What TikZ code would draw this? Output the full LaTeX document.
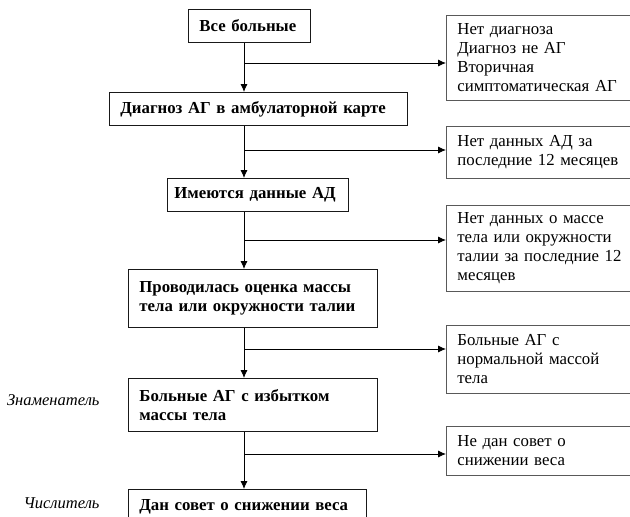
\documentclass[tikz,border=0pt]{standalone}
\usepackage{fontspec}
\setmainfont{Liberation Serif}
\usetikzlibrary{arrows.meta}
\tikzset{
  stagebox/.style={draw=black!90, line width=0.8pt, anchor=north west, align=left, inner xsep=11pt, inner ysep=0pt, font=\fontsize{16.8}{19}\selectfont\bfseries},
  exitbox/.style={draw=black!65, line width=0.8pt, anchor=north west, align=left, inner xsep=11pt, inner ysep=0pt, font=\fontsize{16.8}{19}\selectfont},
  sidelabel/.style={anchor=east, font=\fontsize{16.5}{19}\selectfont\itshape},
  flow/.style={line width=0.8pt, -{Latex[length=8pt,width=7pt]}}
}
\begin{document}
\begin{tikzpicture}[x=1pt,y=-1pt]
\useasboundingbox (0,0) rectangle (630,517);
\clip (0,0) rectangle (630,517);

% main column
\node[stagebox, minimum height=33, text width=100] (all) at (188,9) {Все больные};
\node[stagebox, minimum height=33, text width=276] (diag) at (109,92) {Диагноз АГ в амбулаторной карте};
\node[stagebox, minimum height=33, text width=167, inner xsep=7pt] (bp) at (167,178) {Имеются данные АД};
\node[stagebox, minimum height=58, text width=227] (mass) at (128,269) {Проводилась оценка массы\\тела или окружности талии};
\node[stagebox, minimum height=53, text width=227] (over) at (128,378) {Больные АГ с избытком\\массы тела};
\node[stagebox, minimum height=34, text width=216] (advice) at (128,489) {Дан совет о снижении веса};

% excluded
\node[exitbox, minimum height=85, text width=178] (s1) at (446,15) {Нет диагноза\\Диагноз не АГ\\Вторичная\\симптоматическая АГ};
\node[exitbox, minimum height=52, text width=178] (s2) at (446,126) {Нет данных АД за\\последние 12 месяцев};
\node[exitbox, minimum height=86, text width=178] (s3) at (446,205) {Нет данных о массе\\тела или окружности\\талии за последние 12\\месяцев};
\node[exitbox, minimum height=68, text width=178] (s4) at (446,325) {Больные АГ с\\нормальной массой\\тела};
\node[exitbox, minimum height=49, text width=178] (s5) at (446,426) {Не дан совет о\\снижении веса};

\node[sidelabel] (denom) at (103,400) {Знаменатель};
\node[sidelabel] (numer) at (103,503) {Числитель};

\coordinate (j1) at (244,63);
\coordinate (j2) at (244,150);
\coordinate (j3) at (244,240);
\coordinate (j4) at (244,349);
\coordinate (j5) at (244,454);

\draw[flow] (all.south -| j1) -- (diag.north -| j1);
\draw[flow] (diag.south -| j2) -- (bp.north -| j2);
\draw[flow] (bp.south -| j3) -- (mass.north -| j3);
\draw[flow] (mass.south -| j4) -- (over.north -| j4);
\draw[flow] (over.south -| j5) -- (advice.north -| j5);

\draw[flow] (j1) -- (j1 -| s1.west);
\draw[flow] (j2) -- (j2 -| s2.west);
\draw[flow] (j3) -- (j3 -| s3.west);
\draw[flow] (j4) -- (j4 -| s4.west);
\draw[flow] (j5) -- (j5 -| s5.west);
\end{tikzpicture}
\end{document}
